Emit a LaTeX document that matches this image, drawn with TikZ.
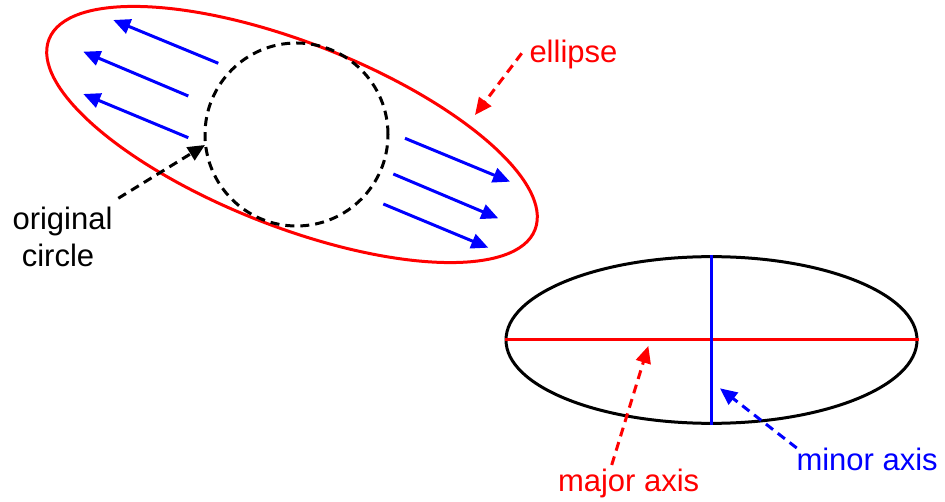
\documentclass[tikz,border=0pt]{standalone}
\usepackage{fontspec}
\setmainfont{Liberation Sans}
\usetikzlibrary{arrows.meta,shapes.geometric}
\begin{document}
\begin{tikzpicture}[x=1pt,y=-1pt,
  line width=3pt,
  tip/.style={-{Triangle[length=17pt,width=15pt]}},
  dsh/.style={dash pattern=on 9pt off 6pt},
  lbl/.style={font=\fontsize{31}{36.5}\selectfont, inner sep=0pt},
]
\useasboundingbox (0,0) rectangle (945,502);
% top figure
\draw[red] [shift={(292,134.5)}, rotate=-21.4] (0,0) ellipse [x radius=261pt, y radius=92pt];
\node[circle, draw=black, dsh, minimum size=183pt, inner sep=0pt] (circ) at (296.5,134.5) {};
% blue arrows
\coordinate (a1s) at (218.3,63.3); \coordinate (a1e) at (113.3,20);
\coordinate (a2s) at (188.3,96);   \coordinate (a2e) at (83.3,51.7);
\coordinate (a3s) at (188.3,137.7);\coordinate (a3e) at (83.3,94);
\coordinate (a4s) at (405,138.3);  \coordinate (a4e) at (510,181.7);
\coordinate (a5s) at (393.3,174);  \coordinate (a5e) at (498.3,218.3);
\coordinate (a6s) at (383.3,204);  \coordinate (a6e) at (488.3,247.7);
\foreach \i in {1,...,6} \draw[blue, tip] (a\i s) -- (a\i e);
% labels top
\node[lbl, red, anchor=base west] (ell) at (528,63) {ellipse};
\coordinate (ellt) at (521.7,53.3); \coordinate (elle) at (475,115);
\draw[red, dsh, tip] (ellt) -- (elle);
\node[lbl, anchor=base] (orig) at (62.5,230) {original};
\node[lbl, anchor=base] (origb) at (58,266.7) {circle};
\coordinate (ort) at (118.3,198.3); \coordinate (ore) at (205,145);
\draw[black, dsh, tip] (ort) -- (ore);
% bottom figure
\node[ellipse, draw=black, minimum width=411pt, minimum height=166.7pt, inner sep=0pt] (bell) at (711.5,340) {};
\draw[red] (bell.west) -- (bell.east);
\draw[blue] (bell.north) -- (bell.south);
\node[lbl, red, anchor=base west] (maj) at (556.5,491.7) {major axis};
\node[lbl, blue, anchor=base west] (min) at (795,470) {minor axis};
\coordinate (majt) at (611.7,465); \coordinate (maje) at (648.3,346);
\coordinate (mint) at (796.7,448); \coordinate (mine) at (720,388.3);
\draw[red, dsh, tip] (majt) -- (maje);
\draw[blue, dsh, tip] (mint) -- (mine);
\end{tikzpicture}
\end{document}
